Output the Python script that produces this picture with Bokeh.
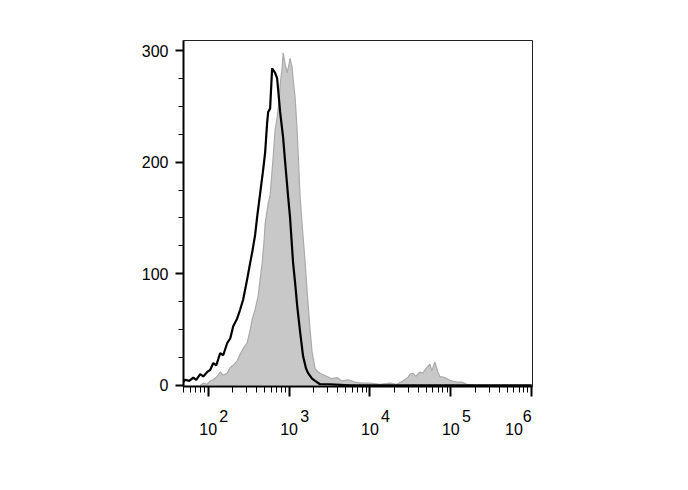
from bokeh.plotting import figure
from bokeh.models import Range1d, FixedTicker, LogTicker, LogAxis, CustomJSTickFormatter
from bokeh.embed import file_html
from bokeh.resources import INLINE

# ---- data (log10 fluorescence intensity, event count) ----
control_log = [1.691, 1.716, 1.765, 1.815, 1.852, 1.901, 1.938, 1.988, 2.025, 2.062,
               2.099, 2.148, 2.185, 2.235, 2.272, 2.309, 2.358, 2.395, 2.432, 2.481,
               2.519, 2.543, 2.580, 2.605, 2.642, 2.679, 2.704, 2.728, 2.741, 2.765,
               2.790, 2.827, 2.852, 2.889, 2.926, 2.951, 2.988, 3.012, 3.049, 3.074,
               3.099, 3.136, 3.173, 3.210, 3.235, 3.284, 3.321, 3.383, 3.506, 3.753,
               4.370, 4.988, 6.000]
control_count = [3, 5, 4, 7, 5, 10, 8, 12, 14, 20,
                 18, 29, 27, 38, 42, 53, 60, 68, 77, 95,
                 110, 119, 135, 151, 172, 193, 209, 235, 245, 248,
                 284, 280, 275, 245, 222, 200, 169, 150, 110, 92,
                 72, 48, 26, 15, 11, 6, 4, 1, 1, 0,
                 0, 0, 0]

sample_log = [1.901, 1.938, 1.988, 2.025, 2.062, 2.111, 2.148, 2.185, 2.235, 2.272,
              2.309, 2.358, 2.395, 2.432, 2.481, 2.519, 2.543, 2.580, 2.617, 2.642,
              2.667, 2.691, 2.704, 2.741, 2.765, 2.790, 2.802, 2.827, 2.852, 2.877,
              2.889, 2.914, 2.926, 2.951, 2.975, 3.000, 3.012, 3.037, 3.049, 3.074,
              3.099, 3.136, 3.160, 3.198, 3.222, 3.259, 3.284, 3.321, 3.358, 3.407,
              3.469, 3.531, 3.593, 3.654, 3.728, 3.815, 3.901, 4.000, 4.123, 4.247,
              4.333, 4.407, 4.469, 4.494, 4.531, 4.568, 4.617, 4.654, 4.691, 4.741,
              4.765, 4.802, 4.840, 4.864, 4.926, 4.975, 5.012, 5.074, 5.136, 5.198,
              5.296, 6.000]
sample_count = [0, 2, 1, 4, 5, 8, 12, 9, 11, 16,
                18, 22, 28, 33, 38, 50, 59, 68, 80, 95,
                110, 130, 145, 163, 170, 193, 204, 229, 240, 255,
                269, 285, 298, 288, 280, 288, 293, 285, 275, 258,
                229, 169, 145, 110, 85, 50, 30, 15, 12, 10,
                8, 6, 7, 4, 5, 3, 2, 2, 1, 2,
                1, 4, 7, 10, 11, 8, 12, 11, 15, 19,
                13, 21, 12, 8, 7, 5, 4, 3, 3, 1,
                0, 0]

y_ticks = [0, 100, 200, 300]
x_decades = [100, 1000, 10000, 100000, 1000000]
x_exponents = ["2", "3", "4", "5", "6"]

control_x = [10 ** v for v in control_log]
sample_x = [10 ** v for v in sample_log]

NB = "\u00a0"

p = figure(
    x_axis_type="log",
    x_range=Range1d(10 ** 1.694, 10 ** 6.01),
    y_range=Range1d(-1, 309),
    frame_width=349, frame_height=346,
    min_border_left=183, min_border_top=40, min_border_right=140, min_border_bottom=60,
    output_backend="svg", toolbar_location=None,
    background_fill_color="white", border_fill_color="white",
)
p.grid.visible = False
p.outline_line_color = "#222222"
p.outline_line_width = 1

# filled sample histogram
p.varea(x=sample_x, y1=[0] * len(sample_x), y2=sample_count,
        fill_color="#c8c8c8", fill_alpha=1.0)
p.line(x=sample_x, y=sample_count, line_color="#aaaaaa", line_width=1.2)

# control histogram (black line)
p.line(x=control_x, y=control_count, line_color="black", line_width=2.2)

# y axis
p.yaxis.ticker = FixedTicker(ticks=y_ticks, minor_ticks=list(range(0, 325, 25)))
p.yaxis.axis_line_width = 2
p.yaxis.major_tick_line_width = 2
p.yaxis.major_tick_out = 8
p.yaxis.major_tick_in = 0
p.yaxis.minor_tick_out = 5
p.yaxis.minor_tick_in = 0
p.yaxis.major_label_text_font = "Liberation Sans"
p.yaxis.major_label_text_font_size = "16px"
p.yaxis.major_label_text_color = "black"
p.yaxis.major_label_standoff = 7

# x axis: ticks only
p.xaxis.ticker = LogTicker(num_minor_ticks=10)
p.xaxis.axis_line_width = 2
p.xaxis.major_tick_line_width = 2
p.xaxis.major_tick_out = 10
p.xaxis.major_tick_in = 0
p.xaxis.minor_tick_out = 6
p.xaxis.minor_tick_in = 0
p.xaxis.major_label_standoff = 0
p.xaxis.formatter = CustomJSTickFormatter(code="return ''")

# "10" with a raised exponent set to its right, built from two label rows
expo_labels = {}
base_labels = {}
for v, e in zip(x_decades, x_exponents):
    if v == x_decades[-1]:
        # last label is pulled inside the plot's right edge, as in the original
        expo_labels[v] = e + NB * 2
        base_labels[v] = "10" + NB * 8
    else:
        expo_labels[v] = NB * 7 + e
        base_labels[v] = "10"

expo_axis = LogAxis(
    ticker=FixedTicker(ticks=x_decades),
    formatter=CustomJSTickFormatter(code="return ''"),
    major_label_overrides=expo_labels,
    axis_line_color=None, major_tick_line_color=None, minor_tick_line_color=None,
    major_tick_out=0, minor_tick_out=0,
    major_label_standoff=11,
    major_label_text_font="Liberation Sans", major_label_text_font_size="16px",
    major_label_text_color="black",
)
p.add_layout(expo_axis, "below")

base_axis = LogAxis(
    ticker=FixedTicker(ticks=x_decades),
    formatter=CustomJSTickFormatter(code="return ''"),
    major_label_overrides=base_labels,
    axis_line_color=None, major_tick_line_color=None, minor_tick_line_color=None,
    major_tick_out=0, minor_tick_out=0,
    major_label_standoff=-7,
    major_label_text_font="Liberation Sans", major_label_text_font_size="16px",
    major_label_text_color="black",
)
p.add_layout(base_axis, "below")

open("out.html", "w").write(file_html(p, INLINE))
